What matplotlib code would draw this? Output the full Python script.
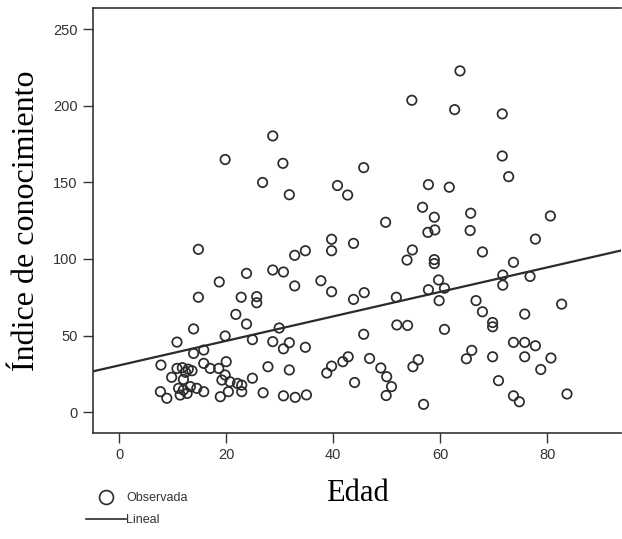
import matplotlib.pyplot as plt
import numpy as np
from matplotlib.lines import Line2D

# Edad / índice de conocimiento (observaciones)
edad = [
    28.7, 19.8, 30.6, 26.8, 31.8, 40.8, 42.7, 45.7, 63.7, 54.7, 62.7, 71.6,
    71.6, 72.8, 57.8, 61.7, 56.7, 58.9, 65.7, 80.6, 49.8,
    14.8, 14.8, 18.7, 23.8, 22.8, 25.7, 25.7, 21.8, 23.8, 13.9, 10.8, 19.8,
    24.9, 28.7, 30.7, 32.8, 34.8, 32.8, 37.7, 39.7, 39.7, 39.7, 43.8, 43.8,
    29.9, 28.7, 30.7, 31.8, 34.8, 27.8, 31.8, 24.9, 26.9, 30.7, 32.9, 35.0,
    38.8, 39.7, 41.8, 42.8, 44.0, 45.7,
    65.6, 57.7, 59.0, 77.8, 67.9, 54.8, 53.8, 58.9, 58.9, 73.7, 71.7, 71.7,
    76.8, 59.7, 60.8, 57.8, 59.8, 51.8, 45.8, 66.7, 67.9, 75.8, 82.7, 69.8,
    69.8, 51.9, 53.9, 60.8, 46.8, 48.9, 50.0, 50.9, 49.9, 54.9, 55.9, 56.9,
    64.9, 65.9, 69.8, 70.9, 73.7, 75.8, 77.8, 75.8, 80.7, 78.8, 73.7, 74.8,
    83.7,
    7.8, 13.9, 15.8, 15.8, 17.0, 18.6, 20.0, 9.8, 12.0, 7.7, 8.9,
    10.8, 11.8, 12.9, 12.4, 13.6,
    11.1, 12.0, 13.3, 14.5, 15.8, 11.4, 12.7,
    19.2, 19.8, 18.9, 20.7, 22.1, 22.9, 22.9, 20.4,
]
indice = [
    180.4, 165.0, 162.5, 150.0, 142.0, 148.0, 141.8, 159.7, 222.9, 203.7, 197.6, 194.8,
    167.3, 153.8, 148.6, 146.9, 133.8, 127.3, 129.9, 128.1, 124.0,
    106.3, 75.0, 85.0, 90.6, 75.0, 75.4, 71.4, 63.8, 57.5, 54.3, 45.7, 49.7,
    47.3, 92.8, 91.5, 102.4, 105.4, 82.4, 85.8, 112.9, 105.4, 78.6, 110.2, 73.6,
    54.9, 46.0, 41.3, 45.3, 42.3, 29.6, 27.5, 22.1, 12.6, 10.6, 9.6, 11.2,
    25.5, 30.0, 32.9, 36.1, 19.3, 50.8,
    118.6, 117.4, 119.0, 113.0, 104.6, 105.9, 99.3, 99.6, 97.0, 97.8, 89.5, 82.9,
    88.6, 86.3, 80.9, 79.9, 72.8, 75.0, 78.0, 72.8, 65.5, 64.0, 70.5, 58.5,
    55.7, 56.9, 56.6, 54.0, 35.0, 28.8, 23.1, 16.6, 10.8, 29.6, 34.2, 5.0,
    34.8, 40.3, 36.1, 20.5, 45.5, 45.5, 43.3, 36.1, 35.3, 27.8, 10.6, 6.7,
    11.8,
    30.7, 38.3, 40.5, 31.8, 28.5, 28.5, 32.9, 22.7, 21.3, 13.3, 9.0,
    28.5, 29.0, 28.0, 26.0, 27.0,
    15.5, 14.4, 16.6, 15.5, 13.3, 11.1, 12.2,
    20.9, 24.2, 10.0, 19.8, 18.7, 17.6, 13.3, 13.3,
]

# recta de ajuste lineal
intercepto = 30.5
pendiente = 0.80

x_ticks = [0, 20, 40, 60, 80]
y_ticks = [0, 50, 100, 150, 200, 250]

fig = plt.figure(figsize=(6.22, 5.39), dpi=100)
ax = fig.add_axes([93 / 622, 1 - 433 / 539, 528 / 622, 425 / 539])

ax.set_xlim(-4.9, 93.8)
ax.set_ylim(-13.7, 264)

xs = np.array(ax.get_xlim())
ax.plot(xs, intercepto + pendiente * xs, color='#2b2b2b', lw=1.6, zorder=2)
ax.scatter(edad, indice, s=46, facecolors='none', edgecolors='#2b2b2b',
           linewidths=1.25, zorder=3)

ax.set_xticks(x_ticks)
ax.set_yticks(y_ticks)
for s in ['left', 'top', 'bottom']:
    ax.spines[s].set_color('#333333')
    ax.spines[s].set_linewidth(1.2)
ax.spines['right'].set_visible(False)
ax.tick_params(direction='out', length=7, width=1.0, color='#333333',
               labelsize=10.5, labelcolor='#333333', pad=4)
for lab in ax.get_xticklabels() + ax.get_yticklabels():
    lab.set_family('Liberation Sans')

ax.set_xlabel('Edad', family='Liberation Serif', fontsize=22, labelpad=12)
ax.set_ylabel('Índice de conocimiento', family='Liberation Serif',
              fontsize=23, labelpad=9)

handles = [
    Line2D([], [], marker='o', ls='none', markersize=10, markerfacecolor='none',
           markeredgecolor='#2b2b2b', markeredgewidth=1.2),
    Line2D([], [], color='#2b2b2b', lw=1.2),
]
fig.legend(handles, ['Observada', 'Lineal'], loc='upper left',
           bbox_to_anchor=(86 / 622, 1 - 492 / 539), frameon=False,
           prop={'family': 'Liberation Sans', 'size': 9},
           handlelength=3.2, handletextpad=0.0, borderpad=0,
           borderaxespad=0, labelspacing=0.8, labelcolor='#333333')

fig.savefig('out.png', dpi=100)
